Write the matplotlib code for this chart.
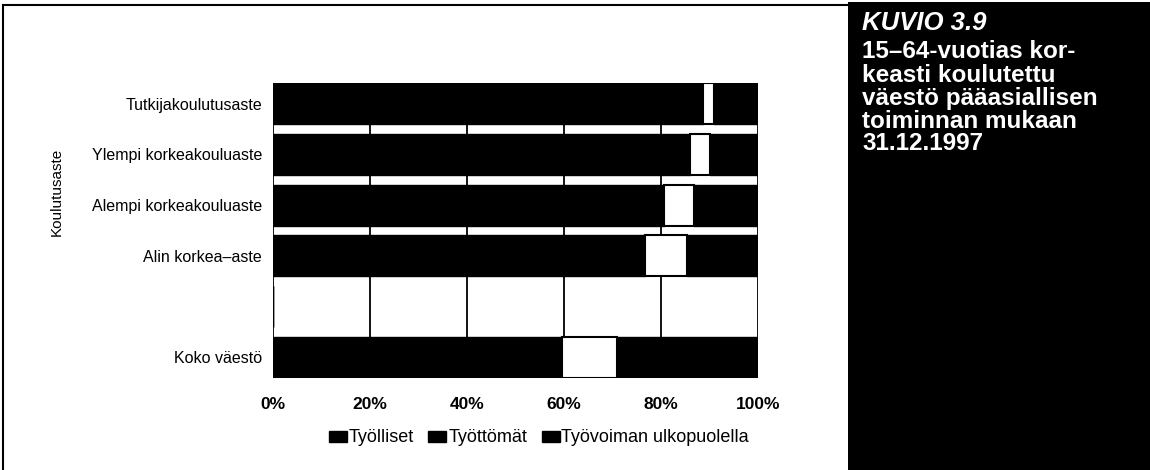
import matplotlib
matplotlib.use("Agg")
import matplotlib.pyplot as plt
from matplotlib.patches import Patch, Rectangle
from matplotlib.lines import Line2D

plt.rcParams['font.family'] = ['Liberation Sans', 'DejaVu Sans']

# data (share of population, %)
categories = ["Koko väestö", "", "Alin korkea\u2013aste", "Alempi korkeakouluaste",
              "Ylempi korkeakouluaste", "Tutkijakoulutusaste"]
tyolliset = [59.5, 0, 76.6, 80.7, 86.0, 88.7]
tyottomat = [11.4, 0, 8.8, 6.2, 4.2, 2.3]
ulkopuolella = [29.1, 0, 14.6, 13.1, 9.8, 9.0]
series_names = ["Työlliset", "Työttömät", "Työvoiman ulkopuolella"]
xticks = [0, 20, 40, 60, 80, 100]

W, H = 1150, 470
fig = plt.figure(figsize=(W / 100, H / 100), dpi=100)
ax = fig.add_axes([273 / W, (H - 378) / H, 485 / W, 295 / H])

ypos = list(range(len(categories)))
left2 = [a + b for a, b in zip(tyolliset, tyottomat)]
ax.barh(ypos, tyolliset, height=0.81, color="black", edgecolor="black", lw=1, zorder=3)
ax.barh(ypos, tyottomat, left=tyolliset, height=0.81, color="white", edgecolor="black", lw=1.5, zorder=3)
ax.barh(ypos, ulkopuolella, left=left2, height=0.81, color="black", edgecolor="black", lw=1, zorder=3)

ax.set_xlim(0, 100)
ax.set_ylim(-0.405, 5.405)
ax.set_xticks(xticks)
ax.set_xticklabels([f"{v}%" for v in xticks], fontsize=12.5, fontweight="bold")
ax.set_yticks(ypos)
ax.set_yticklabels(categories, fontsize=11.5)
ax.tick_params(length=0, pad=8)
ax.tick_params(axis="x", pad=14)
for v in xticks:
    ax.axvline(v, color="black", lw=1.3, zorder=1)
for s in ax.spines.values():
    s.set_visible(False)

fig.text(57 / W, 1 - 192 / H, "Koulutusaste", rotation=90, fontsize=11,
         ha="center", va="center")

handles = [Patch(facecolor="black", edgecolor="black") for _ in series_names]
fig.legend(handles, series_names, loc="center", bbox_to_anchor=(539 / W, 1 - 438 / H),
           ncol=3, frameon=False, fontsize=13, handlelength=1.0, handleheight=0.55,
           handletextpad=0.1, columnspacing=0.8)

# outer frame of the chart box
fig.add_artist(Line2D([3 / W, 3 / W], [0, 1 - 5 / H], color="black", lw=1.5))
fig.add_artist(Line2D([3 / W, 848 / W], [1 - 5 / H, 1 - 5 / H], color="black", lw=1.5))

# caption panel
fig.add_artist(Rectangle((848 / W, 0), 1 - 848 / W, 1 - 2 / H, transform=fig.transFigure,
                         facecolor="black", edgecolor="none"))
fig.text(862 / W, 1 - 23 / H, "KUVIO 3.9", color="white", fontsize=18.5,
         fontweight="bold", fontstyle="italic", va="center")
caption = ["15\u201364-vuotias kor-", "keasti koulutettu", "väestö pääasiallisen",
           "toiminnan mukaan", "31.12.1997"]
for i, line in enumerate(caption):
    fig.text(862 / W, 1 - (52 + 23 * i) / H, line, color="white", fontsize=17.5,
             fontweight="bold", va="center")

fig.savefig("out.png", dpi=100)
